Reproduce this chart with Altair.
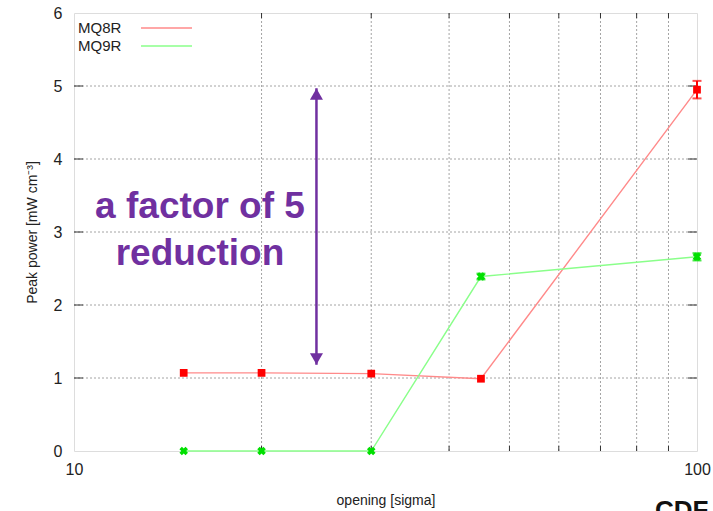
import altair as alt
import pandas as pd

# ---- data ----
openings = [15, 20, 30, 45, 100]
mq8r = [1.07, 1.07, 1.06, 0.99, 4.95]
mq8r_err = [0.02, 0.02, 0.02, 0.02, 0.12]
mq9r = [0.0, 0.0, 0.0, 2.39, 2.66]
mq9r_err = [0.0, 0.0, 0.0, 0.04, 0.05]

x_ticks = [10, 100]
x_grid = [20, 30, 40, 50, 60, 70, 80, 90]
y_ticks = [0, 1, 2, 3, 4, 5, 6]
y_grid = [1, 2, 3, 4, 5]

arrow_x = [24.5]
arrow_lo = [1.18]
arrow_hi = [4.97]
note_lines = ["a factor of 5", "reduction"]
note_x = [15.93, 15.93]
note_y = [3.19, 2.55]

W, H = 623, 438
RED_LINE, RED_PT = "#ff8a8a", "#ff0000"
GRN_LINE, GRN_PT = "#8aff8a", "#00e000"
PURPLE = "#7030a0"
FONT = "Liberation Sans"

red = pd.DataFrame({"x": openings, "y": mq8r,
                    "lo": [v - e for v, e in zip(mq8r, mq8r_err)],
                    "hi": [v + e for v, e in zip(mq8r, mq8r_err)]})
grn = pd.DataFrame({"x": openings, "y": mq9r,
                    "lo": [v - e for v, e in zip(mq9r, mq9r_err)],
                    "hi": [v + e for v, e in zip(mq9r, mq9r_err)]})

xs = alt.Scale(type="log", domain=[10, 100])
ys = alt.Scale(domain=[0, 6])

xaxis = alt.Axis(values=x_ticks, grid=False, ticks=False, domain=False, format="d",
                 labelFlush=False, labelFontSize=16, labelFont=FONT, labelColor="#222",
                 labelPadding=10, title="opening [sigma]", titleFont=FONT,
                 titleFontSize=14, titleFontWeight="normal", titleColor="#222", titlePadding=16)
yaxis = alt.Axis(values=y_ticks, grid=False, ticks=False, domain=False, format="d",
                 labelFontSize=16, labelFont=FONT, labelColor="#222",
                 labelPadding=12, title="Peak power [mW cm⁻³]", titleFont=FONT,
                 titleFontSize=14, titleFontWeight="normal", titleColor="#222", titlePadding=14)

xgrid = alt.Chart(pd.DataFrame({"x": x_grid})).mark_rule(
    color="#9a9a9a", strokeDash=[2, 2], strokeWidth=0.9
).encode(x=alt.X("x:Q", scale=xs, axis=xaxis), y=alt.value(0), y2=alt.value(H))

ygrid = alt.Chart(pd.DataFrame({"y": y_grid})).mark_rule(
    color="#9a9a9a", strokeDash=[2, 2], strokeWidth=0.9
).encode(y=alt.Y("y:Q", scale=ys, axis=yaxis), x=alt.value(0), x2=alt.value(W))

xminor_b = alt.Chart(pd.DataFrame({"x": x_grid})).mark_rule(color="#333", strokeWidth=1).encode(
    x=alt.X("x:Q", scale=xs), y=alt.value(H), y2=alt.value(H - 5))
xminor_t = alt.Chart(pd.DataFrame({"x": x_grid})).mark_rule(color="#333", strokeWidth=1).encode(
    x=alt.X("x:Q", scale=xs), y=alt.value(0), y2=alt.value(5))
ymaj_l = alt.Chart(pd.DataFrame({"y": y_grid})).mark_rule(color="#333", strokeWidth=1).encode(
    y=alt.Y("y:Q", scale=ys), x=alt.value(0), x2=alt.value(9))
ymaj_r = alt.Chart(pd.DataFrame({"y": y_grid})).mark_rule(color="#333", strokeWidth=1).encode(
    y=alt.Y("y:Q", scale=ys), x=alt.value(W - 9), x2=alt.value(W))


def series(df, line_c, pt_c, shape, angle, size):
    b = alt.Chart(df)
    ln = b.mark_line(strokeWidth=1.4, color=line_c).encode(
        x=alt.X("x:Q", scale=xs), y=alt.Y("y:Q", scale=ys))
    eb = b.transform_filter("datum.hi - datum.lo > 0.05")
    er = eb.mark_rule(strokeWidth=2, color=pt_c).encode(
        x=alt.X("x:Q", scale=xs), y=alt.Y("lo:Q", scale=ys), y2="hi:Q")
    c1 = eb.mark_tick(orient="horizontal", size=9, thickness=2, color=pt_c).encode(
        x=alt.X("x:Q", scale=xs), y=alt.Y("lo:Q", scale=ys))
    c2 = eb.mark_tick(orient="horizontal", size=9, thickness=2, color=pt_c).encode(
        x=alt.X("x:Q", scale=xs), y=alt.Y("hi:Q", scale=ys))
    pt = b.mark_point(filled=True, shape=shape, angle=angle, size=size, opacity=1, color=pt_c).encode(
        x=alt.X("x:Q", scale=xs), y=alt.Y("y:Q", scale=ys))
    return [ln, er, c1, c2, pt]


adf = pd.DataFrame({"x": arrow_x, "lo": arrow_lo, "hi": arrow_hi})
arrow_line = alt.Chart(adf).mark_rule(color=PURPLE, strokeWidth=2.5).encode(
    x=alt.X("x:Q", scale=xs), y=alt.Y("lo:Q", scale=ys), y2="hi:Q")
arrow_up = alt.Chart(adf).mark_point(shape="triangle-up", filled=True, color=PURPLE, size=170, opacity=1, yOffset=6).encode(
    x=alt.X("x:Q", scale=xs), y=alt.Y("hi:Q", scale=ys))
arrow_dn = alt.Chart(adf).mark_point(shape="triangle-down", filled=True, color=PURPLE, size=170, opacity=1, yOffset=-6).encode(
    x=alt.X("x:Q", scale=xs), y=alt.Y("lo:Q", scale=ys))

note = alt.Chart(pd.DataFrame({"t": note_lines, "x": note_x, "y": note_y})).mark_text(
    color=PURPLE, font=FONT, fontWeight="bold", fontSize=37, align="center", baseline="alphabetic"
).encode(x=alt.X("x:Q", scale=xs), y=alt.Y("y:Q", scale=ys), text="t:N")

leg_text = alt.Chart(pd.DataFrame({"s": ["MQ8R", "MQ9R"], "ty": [15, 33]})).mark_text(
    font=FONT, fontSize=15, align="left", baseline="middle", color="#222"
).encode(x=alt.value(4), y=alt.Y("ty:Q", scale=None), text="s:N")
leg_red = alt.Chart(pd.DataFrame({"ty": [15]})).mark_rule(strokeWidth=1.5, color=RED_LINE).encode(
    x=alt.value(67), x2=alt.value(118), y=alt.Y("ty:Q", scale=None))
leg_grn = alt.Chart(pd.DataFrame({"ty": [33]})).mark_rule(strokeWidth=1.5, color=GRN_LINE).encode(
    x=alt.value(67), x2=alt.value(118), y=alt.Y("ty:Q", scale=None))

cdf = alt.Chart(pd.DataFrame({"t": ["CDF"]})).mark_text(
    font=FONT, fontWeight="bold", fontSize=26, align="left", baseline="alphabetic", color="#111"
).encode(x=alt.value(581), y=alt.value(506), text="t:N")

chart = alt.layer(
    xgrid, ygrid, xminor_b, xminor_t, ymaj_l, ymaj_r,
    *series(red, RED_LINE, RED_PT, "square", 0, 60),
    *series(grn, GRN_LINE, GRN_PT, "cross", 45, 75),
    arrow_line, arrow_up, arrow_dn, note, leg_red, leg_grn, leg_text, cdf
).properties(
    width=W, height=H,
    autosize=alt.AutoSizeParams(type="none"),
    padding={"left": 74, "top": 13, "right": 16, "bottom": 60},
).configure_view(stroke="#222", strokeWidth=1.5).configure(background="white")

chart.save("out.html", embed_options={"renderer": "svg", "actions": False})
